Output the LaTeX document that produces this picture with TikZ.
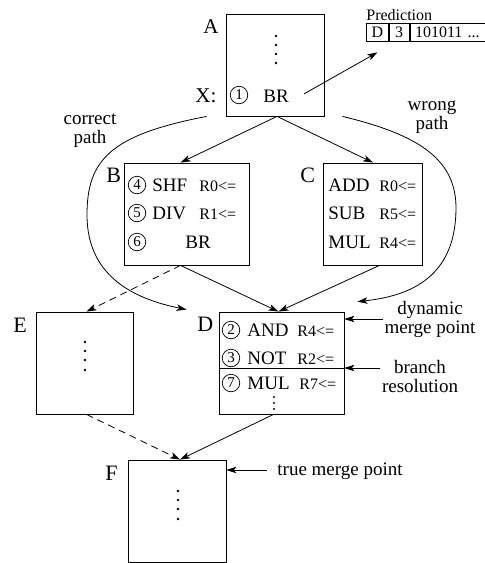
\documentclass[tikz,border=0pt]{standalone}
\usepackage{fontspec}
\setmainfont{Liberation Serif}
\usetikzlibrary{arrows.meta,positioning}
\newcommand{\fsz}[1]{\fontsize{#1}{#1}\selectfont}

\begin{document}
\begin{tikzpicture}[x=1pt,y=-1pt,line width=0.8pt,
        blk/.style={draw, minimum width=#1, minimum height=102pt, inner sep=0pt},
        txt/.style={anchor=base west, inner sep=0pt, font=\fsz{19}},
        reg/.style={anchor=base west, inner sep=0pt, font=\fsz{16}},
        lbl/.style={anchor=base west, inner sep=0pt, font=\fsz{22}},
        num/.style={circle, draw, line width=0.7pt, minimum size=17.5pt, inner sep=0pt, font=\fsz{15}},
        note/.style={inner sep=0pt, align=center, font=\fontsize{19}{19}\selectfont},
        cell/.style={draw, anchor=west, minimum height=18pt, inner sep=0pt, font=\fsz{16}},
        arr/.style={-{Stealth[length=10pt,width=6.5pt,inset=2.5pt]}}]
    \useasboundingbox (0,0) rectangle (485,563);
    % basic blocks
    \node[blk=98pt] (A) at (275,65) {};
    \node[blk=125pt] (B) at (186.5,214) {};
    \node[blk=99pt] (C) at (372.5,214) {};
    \node[blk=97pt] (E) at (84.5,363) {};
    \node[blk=125pt] (D) at (281.5,363) {};
    \node[blk=98pt] (F) at (177,511) {};
    \coordinate (dcut) at (0,368);
    \draw (D.west |- dcut) -- (D.east |- dcut);
    % block names
    \node[lbl, font=\fsz{21}] (labA) at (203,33) {A};
    \node[lbl] (labB) at (106,182) {B};
    \node[lbl] (labC) at (300,182) {C};
    \node[lbl] (labD) at (197,331) {D};
    \node[lbl] (labE) at (13,332) {E};
    \node[lbl] (labF) at (105,480) {F};
    % block A
    \node[txt, font=\fsz{21}] (labX) at (195,102) {X:};
    \node[num] (n1) at (239,95) {1};
    \node[txt] (brA) at (263,102) {BR};
    \foreach \y in {36,45,54,63} \fill (276,\y) circle (1.3pt);
    % block B
    \node[num] (n4) at (137,185) {4};
    \node[txt] (shf) at (152,191) {SHF};
    \node[reg] (rb1) at (199,191) {R0<=};
    \node[num] (n5) at (137,213) {5};
    \node[txt] (div) at (152,219) {DIV};
    \node[reg] (rb2) at (199,219) {R1<=};
    \node[num] (n6) at (137,242) {6};
    \node[txt] (brB) at (185,248) {BR};
    % block C
    \node[txt] (add) at (328,191) {ADD};
    \node[reg] (rc1) at (379,191) {R0<=};
    \node[txt] (sub) at (328,219) {SUB};
    \node[reg] (rc2) at (379,219) {R5<=};
    \node[txt] (mulC) at (328,248) {MUL};
    \node[reg] (rc3) at (379,248) {R4<=};
    % block D
    \node[num] (n2) at (231,330) {2};
    \node[txt] (and) at (247,336) {AND};
    \node[reg] (rd1) at (297,336) {R4<=};
    \node[num] (n3) at (231,358) {3};
    \node[txt] (not) at (247,364) {NOT};
    \node[reg] (rd2) at (297,364) {R2<=};
    \node[num] (n7) at (231,383) {7};
    \node[txt] (mulD) at (247,389) {MUL};
    \node[reg] (rd3) at (299,389) {R7<=};
    \foreach \y in {397,403,409} \fill (274,\y) circle (1.2pt);
    % blocks E and F
    \foreach \y in {342,351,360,370} \fill (85,\y) circle (1.3pt);
    \foreach \y in {491,500,509,519} \fill (178,\y) circle (1.3pt);
    % prediction entry
    \node[reg] (pred) at (366,20) {Prediction};
    \node[cell, minimum width=22pt] (pd) at (366,32) {D};
    \node[cell, minimum width=20pt] (pn) at (pd.east) {3};
    \node[cell, text width=82pt, inner xsep=5pt, align=left] (pb) at (pn.east) {101011 ...};
    \draw[arr] ([shift={(15pt,2pt)}]brA.east) -- ([yshift=-11pt]pd.south);
    % control flow
    \draw[arr] ([xshift=2pt]A.south) -- ([xshift=-6pt]B.north);
    \draw[arr] ([xshift=2pt]A.south) -- ([xshift=0.5pt]C.north);
    \draw[arr] ([xshift=-6pt]B.south) -- ([xshift=-3pt]D.north);
    \draw[arr] ([xshift=7pt]C.south) -- ([xshift=-3pt]D.north);
    \draw[arr, dash pattern=on 7pt off 5pt] ([xshift=-6pt]B.south) -- ([xshift=2pt]E.north);
    \draw[arr, dash pattern=on 7pt off 5pt] ([xshift=2pt]E.south) -- ([xshift=3pt]F.north);
    \draw[arr] ([xshift=-8pt]D.south) -- ([xshift=3pt]F.north);
    % predicted paths
    \draw[arr] ([xshift=-19pt]A.south west) .. controls (110,135) and (87,160) .. (87,215)
        .. controls (87,280) and (140,300) .. ([shift={(-32pt,2pt)}]D.north west);
    \draw[arr] ([xshift=18pt]A.south east) .. controls (420,135) and (457,160) .. (456,210)
        .. controls (455,270) and (420,295) .. ([shift={(13pt,10pt)}]D.north east);
    \node[note] (cpath) at (90,131) {correct\\path};
    \node[note] (wpath) at (432,117) {wrong\\path};
    % annotations
    \node[note, inner xsep=1pt] (dmp) at (430,319) {dynamic\\merge point};
    \draw[arr] (dmp.west) -- (dmp.west -| D.east);
    \node[note, inner xsep=2pt] (bres) at (420,376) {branch\\resolution};
    \coordinate (bra) at ([yshift=8pt]bres.west);
    \draw[arr] (bra) -- (bra -| D.east);
    \node[txt] (tmp) at (277,475) {true merge point};
    \coordinate (tma) at ([shift={(-10pt,5pt)}]tmp.base west);
    \draw[arr] (tma) -- (tma -| F.east);
\end{tikzpicture}
\end{document}
